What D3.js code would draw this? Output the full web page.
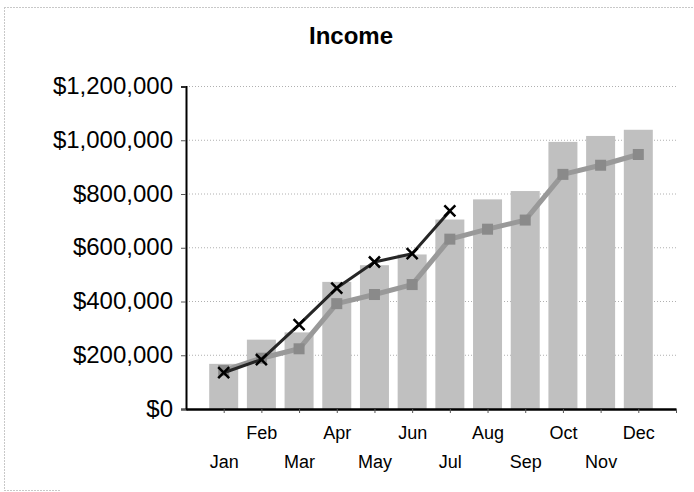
<!DOCTYPE html>
<html>
<head>
<meta charset="utf-8">
<script src="https://cdn.jsdelivr.net/npm/d3@7"></script>
<style>
  html, body { margin: 0; padding: 0; background: #fff; }
  svg { display: block; }
  text { font-family: "Liberation Sans", Arial, sans-serif; fill: #000; }
</style>
</head>
<body>
<svg id="chart" width="694" height="492"></svg>
<script>
const months = ["Jan","Feb","Mar","Apr","May","Jun","Jul","Aug","Sep","Oct","Nov","Dec"];
const barValues = [168000, 258000, 285000, 473000, 535000, 575000, 705000, 780000, 811000, 994000, 1016000, 1039000];
const grayLineValues = [143000, 189000, 224000, 392000, 426000, 463000, 632000, 669000, 703000, 873000, 907000, 947000];
const darkLineValues = [135000, 184000, 314000, 450000, 547000, 578000, 737000];
const yTicks = [0, 200000, 400000, 600000, 800000, 1000000, 1200000];
const title = "Income";

const svg = d3.select("#chart");
const plotLeft = 186, plotRight = 676, plotTop = 86.5, plotBottom = 409;

const x = d3.scaleLinear().domain([0, 13]).range([plotLeft, plotRight]);
const y = d3.scaleLinear().domain([0, 1200000]).range([plotBottom, plotTop]);

// outer frame (faint dotted)
const frame = svg.append("g").attr("stroke", "#c8c8c8").attr("stroke-width", 1).attr("stroke-dasharray", "2,1");
frame.append("line").attr("x1", 4).attr("x2", 693).attr("y1", 7.5).attr("y2", 7.5);
frame.append("line").attr("x1", 4.5).attr("x2", 4.5).attr("y1", 7).attr("y2", 491);
frame.append("line").attr("x1", 4).attr("x2", 60).attr("y1", 490.5).attr("y2", 490.5);

// title
svg.append("text").attr("x", 351).attr("y", 44).attr("text-anchor", "middle")
  .style("font-size", "24px").style("font-weight", "bold").text(title);

// gridlines
svg.append("g").selectAll("line").data(yTicks.filter(d => d > 0)).join("line")
  .attr("x1", plotLeft).attr("x2", plotRight)
  .attr("y1", d => y(d)).attr("y2", d => y(d))
  .attr("stroke", "#b0b0b0").attr("stroke-width", 1).attr("stroke-dasharray", "1,2");

// bars
const barW = 29;
svg.append("g").selectAll("rect").data(barValues).join("rect")
  .attr("x", (d, i) => x(i + 1) - barW / 2)
  .attr("width", barW)
  .attr("y", d => y(d))
  .attr("height", d => y(0) - y(d))
  .attr("fill", "#c0c0c0");

// y axis
const yAxis = svg.append("g").attr("transform", `translate(${plotLeft},0)`)
  .call(d3.axisLeft(y).tickValues(yTicks).tickFormat(d3.format("$,")).tickSize(5).tickPadding(8));
yAxis.select(".domain").attr("stroke", "#000").attr("stroke-width", 2);
yAxis.selectAll(".tick line").attr("stroke", "#555");
yAxis.selectAll(".tick text").style("font-size", "24px").style("font-family", "'Liberation Sans', Arial, sans-serif")
  .attr("fill", "#000").attr("dy", "0.3em");

// x axis
const xAxis = svg.append("g").attr("transform", `translate(0,${plotBottom})`)
  .call(d3.axisBottom(x).tickValues(d3.range(1, 14)).tickFormat(d => months[d - 1] || "").tickSize(4).tickSizeOuter(0));
xAxis.select(".domain").attr("stroke", "#000").attr("stroke-width", 2.5);
xAxis.selectAll(".tick line").attr("stroke", "#555");
xAxis.selectAll(".tick text").style("font-size", "18px").style("font-family", "'Liberation Sans', Arial, sans-serif")
  .attr("fill", "#000")
  .attr("y", (d) => (d % 2 === 0 ? 17 : 46))
  .attr("dy", "0.71em");

// gray line
const line = d3.line().x((d, i) => x(i + 1)).y(d => y(d));
svg.append("path").datum(grayLineValues).attr("d", line)
  .attr("fill", "none").attr("stroke", "#999999").attr("stroke-width", 5).attr("stroke-linejoin", "round");
svg.append("g").selectAll("rect").data(grayLineValues).join("rect")
  .attr("x", (d, i) => x(i + 1) - 5.5).attr("y", d => y(d) - 5.5)
  .attr("width", 11).attr("height", 11).attr("fill", "#8a8a8a");

// dark line
svg.append("path").datum(darkLineValues).attr("d", line)
  .attr("fill", "none").attr("stroke", "#262626").attr("stroke-width", 3).attr("stroke-linejoin", "round");
const xm = svg.append("g").selectAll("g").data(darkLineValues).join("g")
  .attr("transform", (d, i) => `translate(${x(i + 1)},${y(d)})`);
xm.append("path").attr("d", "M-5.5,-5.5L5.5,5.5M-5.5,5.5L5.5,-5.5")
  .attr("stroke", "#000").attr("stroke-width", 2.5).attr("fill", "none");
</script>
</body>
</html>
